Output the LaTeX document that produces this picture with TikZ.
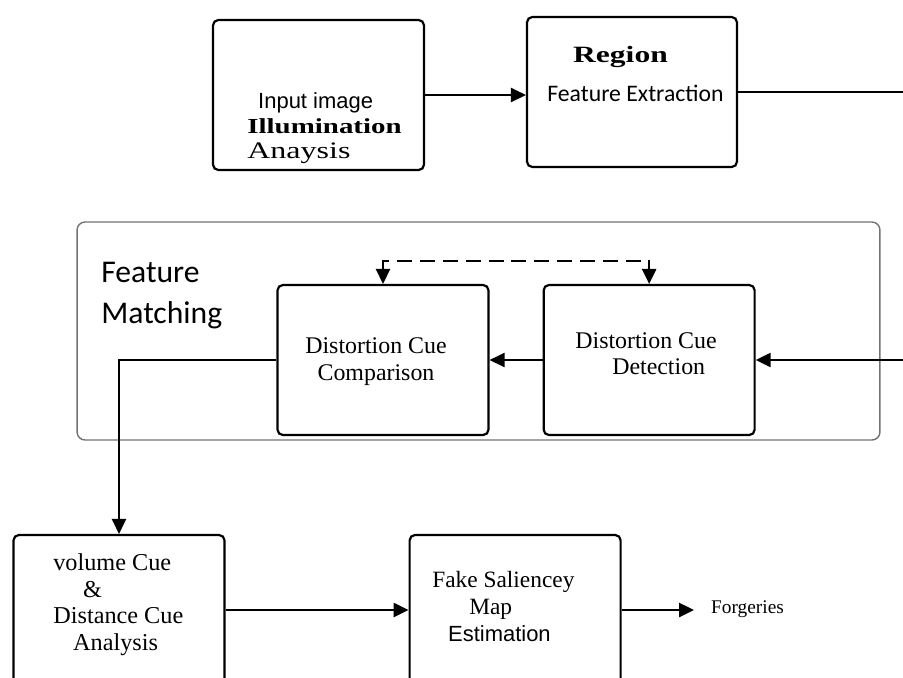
\documentclass[tikz,border=0pt]{standalone}
\usepackage{fontspec}
\setmainfont{Liberation Serif}
\setsansfont{Liberation Sans}
\newfontfamily\calfont{Carlito}
\newfontfamily\wideserif[FakeStretch=1.35]{Liberation Serif}
\usetikzlibrary{arrows.meta,positioning}

\begin{document}
\begin{tikzpicture}[
  x=0.02cm, y=-0.02cm,
  box/.style={draw=black, line width=1.25pt, rounded corners=3pt, minimum width=4.22cm, minimum height=3cm, inner sep=0pt},
  group/.style={draw=black!55, line width=0.8pt, rounded corners=4.5pt, minimum width=16.06cm, minimum height=4.36cm},
  lbl/.style={inner sep=0pt, align=left, anchor=north west},
  arrow/.style={-{Triangle[length=8.5pt, width=8pt]}, line width=1.2pt},
  dasharrow/.style={{Triangle[length=8.5pt, width=8pt]}-{Triangle[length=8.5pt, width=8pt]}, line width=1.3pt, dash pattern=on 8.5pt off 4.5pt}
]
  \clip (0,0) rectangle (903,677);

  \node[box] (inp) at (318.5,95) {};
  \node[box, minimum width=4.2cm] (reg) at (632,92) {};

  \node[group] (match) at (478.5,331) {};
  \node[box] (comp) at (383,360) {};
  \node[box, right=1.06cm of comp] (det) {};

  \node[box] (vol) at (119,610) {};
  \node[box, right=3.66cm of vol] (fake) {};

  \node[lbl, font=\fontsize{12.5}{14.2}\sffamily] (inptxt) at (247,92)
    {\hspace*{6.2pt}Input image\\
     {\wideserif\bfseries\fontsize{12.2}{14.2}\selectfont Illumination}\\
     {\wideserif\fontsize{13.5}{14.2}\selectfont Anaysis}};
  \node[lbl, font=\fontsize{13.5}{22}\calfont] (regtxt) at (547,46)
    {{\hspace*{14.7pt}\wideserif\bfseries\fontsize{13.3}{22}\selectfont Region}\\
     Feature Extraction};
  \node[lbl, font=\fontsize{18}{23.2}\calfont] (matchtxt) at (101,262) {Feature\\Matching};
  \node[lbl, anchor=north, align=center, font=\fontsize{13.6}{15.3}\selectfont] (comptxt) at (376,337)
    {Distortion Cue\\Comparison};
  \node[lbl, font=\fontsize{13.6}{14.7}\selectfont] (dettxt) at (575,332)
    {Distortion Cue\\\hspace*{21pt}Detection};
  \node[lbl, font=\fontsize{13.8}{15.3}\selectfont] (voltxt) at (53,553)
    {volume Cue\\\hspace*{17pt}\&\\Distance Cue\\\hspace*{11.3pt}Analysis};
  \node[lbl, font=\fontsize{13.3}{15.3}\selectfont] (faketxt) at (432,571)
    {Fake Saliencey\\\hspace*{21pt}Map\\
     \hspace*{9pt}{\sffamily\fontsize{12.5}{15.3}\selectfont Estimation}};
  \node[anchor=base west, inner ysep=0pt, inner xsep=9.6pt, font=\fontsize{11}{13}\selectfont] (forg) at (694,613) {Forgeries};

  \coordinate (rout) at (903,92);
  \coordinate (rin) at (903,360);

  \draw[arrow] (inp.east) -- (inp.east -| reg.west);
  \draw[line width=1.2pt] (reg.east) -- (rout);
  \draw[arrow] (rin) -- (det.east);
  \draw[arrow] (det.west) -- (comp.east);
  \draw[dasharrow] (comp.north) -- ++(0,-23) -| (det.north);
  \draw[arrow] (comp.west) -| (vol.north);
  \draw[arrow] (vol.east) -- (vol.east -| fake.west);
  \draw[arrow] (fake.east) -- (fake.east -| forg.west);
\end{tikzpicture}
\end{document}
